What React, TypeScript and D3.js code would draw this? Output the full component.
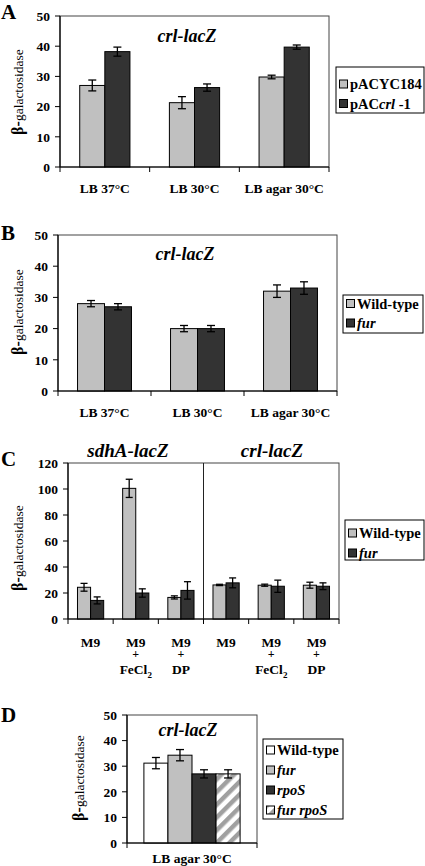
import React from "react";
import * as d3 from "d3";

// ---------- DATA ----------
const panelACategories = ["LB 37°C", "LB 30°C", "LB agar 30°C"];
const panelASeries = ["pACYC184", "pACcrl -1"];
const panelAValuesVector = [27, 21.3, 29.8];
const panelAErrorsVector = [1.8, 2.0, 0.6];
const panelAValuesCrl = [38.2, 26.3, 39.7];
const panelAErrorsCrl = [1.5, 1.2, 0.7];

const panelBCategories = ["LB 37°C", "LB 30°C", "LB agar 30°C"];
const panelBSeries = ["Wild-type", "fur"];
const panelBValuesWT = [28, 20, 32];
const panelBErrorsWT = [1, 1, 2];
const panelBValuesFur = [27, 20, 33];
const panelBErrorsFur = [1, 1, 2];

const panelCCategories = [
  ["M9"],
  ["M9", "+", "FeCl2"],
  ["M9", "+", "DP"],
  ["M9"],
  ["M9", "+", "FeCl2"],
  ["M9", "+", "DP"],
];
const panelCGroups = ["sdhA-lacZ", "crl-lacZ"];
const panelCSeries = ["Wild-type", "fur"];
const panelCValuesWT = [24.4, 100.5, 16.6, 26.2, 26, 26];
const panelCErrorsWT = [3, 7, 1.2, 0.5, 0.8, 2.3];
const panelCValuesFur = [14.3, 20, 22, 27.8, 25.2, 25.2];
const panelCErrorsFur = [2.7, 3.2, 6.7, 3.8, 4.7, 2.6];

const panelDCategories = ["LB agar 30°C"];
const panelDSeries = ["Wild-type", "fur", "rpoS", "fur rpoS"];
const panelDValues = [31.2, 34.3, 27, 27];
const panelDErrors = [2.2, 2.2, 1.6, 1.6];

const titleReporter = "crl-lacZ";
const yAxisLabelPrefix = "β-";
const yAxisLabelRest = "galactosidase";
const yTicks50 = [0, 10, 20, 30, 40, 50];
const yTicks120 = [0, 20, 40, 60, 80, 100, 120];

// ---------- STYLE ----------
const SERIF = "Liberation Serif, Times New Roman, Times, serif";
const LIGHT = "#c0c0c0";
const DARK = "#333333";
const WHITE = "#ffffff";

function RichLabel({ name }: { name: string }) {
  if (name === "pACcrl -1") {
    return (
      <>
        <tspan>pAC</tspan>
        <tspan fontStyle="italic">crl</tspan>
        <tspan> -1</tspan>
      </>
    );
  }
  if (name === "Wild-type" || name.startsWith("pACYC")) return <tspan>{name}</tspan>;
  return <tspan fontStyle="italic">{name}</tspan>;
}

type Series = { values: number[]; errors: number[]; fill: string };

function Panel(props: {
  left: number;
  right: number;
  top: number;
  bottom: number;
  yMax: number;
  ticks: number[];
  nCats: number;
  series: Series[];
  groupFrac: number;
  cap: number;
  dividerAt?: number;
}) {
  const { left, right, top, bottom, yMax, ticks, nCats, series, groupFrac, cap, dividerAt } = props;
  const x = d3
    .scaleBand<number>()
    .domain(d3.range(nCats))
    .range([left, right])
    .padding(0);
  const y = d3.scaleLinear().domain([0, yMax]).range([bottom, top]);
  const bw = x.bandwidth();
  const groupW = bw * groupFrac;
  const sub = d3
    .scaleBand<number>()
    .domain(d3.range(series.length))
    .range([0, groupW])
    .padding(0);
  const boundaries = d3.range(nCats + 1).map((k) => left + k * bw);
  return (
    <g>
      <rect x={left} y={top} width={right - left} height={bottom - top} fill="#fff" stroke="#444" strokeWidth={1} />
      {dividerAt !== undefined && (
        <line x1={boundaries[dividerAt]} x2={boundaries[dividerAt]} y1={top} y2={bottom} stroke="#222" strokeWidth={1} />
      )}
      {series.map((s, j) =>
        s.values.map((v, i) => {
          const bx = (x(i) as number) + (bw - groupW) / 2 + (sub(j) as number);
          const w = sub.bandwidth();
          const cx = bx + w / 2;
          const e = s.errors[i];
          return (
            <g key={`${j}-${i}`}>
              <rect x={bx} y={y(v)} width={w} height={y(0) - y(v)} fill={s.fill} stroke="#000" strokeWidth={1} />
              <line x1={cx} x2={cx} y1={y(v + e)} y2={y(v - e)} stroke="#000" strokeWidth={1.3} />
              <line x1={cx - cap / 2} x2={cx + cap / 2} y1={y(v + e)} y2={y(v + e)} stroke="#000" strokeWidth={1.3} />
              <line x1={cx - cap / 2} x2={cx + cap / 2} y1={y(v - e)} y2={y(v - e)} stroke="#000" strokeWidth={1.3} />
            </g>
          );
        })
      )}
      <line x1={left} x2={left} y1={top} y2={bottom} stroke="#000" strokeWidth={1.2} />
      <line x1={left} x2={right} y1={bottom} y2={bottom} stroke="#000" strokeWidth={1.2} />
      {ticks.map((t) => (
        <g key={t}>
          <line x1={left - 5} x2={left} y1={y(t)} y2={y(t)} stroke="#000" strokeWidth={1} />
          <text
            x={left - 10}
            y={y(t)}
            dy="0.35em"
            textAnchor="end"
            fontFamily={SERIF}
            fontWeight="bold"
            fontSize={13.5}
          >
            {t}
          </text>
        </g>
      ))}
      {boundaries.map((bx, k) => (
        <line key={k} x1={bx} x2={bx} y1={bottom} y2={bottom + 5} stroke="#000" strokeWidth={1} />
      ))}
    </g>
  );
}

function YLabel({ x, y }: { x: number; y: number }) {
  return (
    <text
      transform={`translate(${x},${y}) rotate(-90)`}
      textAnchor="middle"
      dy="0.35em"
      fontFamily={SERIF}
    >
      <tspan fontWeight="bold" fontSize={16}>
        {yAxisLabelPrefix}
      </tspan>
      <tspan fontSize={13.5}>{yAxisLabelRest}</tspan>
    </text>
  );
}

function Legend({
  x,
  y,
  w,
  h,
  names,
  fills,
  rowYs,
}: {
  x: number;
  y: number;
  w: number;
  h: number;
  names: string[];
  fills: string[];
  rowYs: number[];
}) {
  return (
    <g>
      <rect x={x} y={y} width={w} height={h} fill="#fff" stroke="#000" strokeWidth={1} />
      {names.map((n, i) => (
        <g key={n}>
          <rect x={x + 3.5} y={rowYs[i] - 4} width={8} height={8} fill={fills[i]} stroke="#000" strokeWidth={1} />
          <text x={x + 14} y={rowYs[i]} dy="0.35em" fontFamily={SERIF} fontWeight="bold" fontSize={14.5}>
            <RichLabel name={n} />
          </text>
        </g>
      ))}
    </g>
  );
}

function Letter({ x, y, t }: { x: number; y: number; t: string }) {
  return (
    <text x={x} y={y} fontFamily={SERIF} fontWeight="bold" fontSize={21}>
      {t}
    </text>
  );
}

function Title({ x, y, t, size = 18 }: { x: number; y: number; t: string; size?: number }) {
  return (
    <text x={x} y={y} textAnchor="middle" fontFamily={SERIF} fontWeight="bold" fontStyle="italic" fontSize={size}>
      {t}
    </text>
  );
}

const C_LINE_Y = [647, 658, 674];

function MultiLineLabel({ x, lines }: { x: number; lines: string[] }) {
  // one text element, each line a tspan; a trailing digit after a lowercase letter is a subscript
  const parts: React.ReactNode[] = [];
  lines.forEach((ln, k) => {
    const m = ln.match(/^(.*[a-z])(\d+)$/);
    if (m) {
      parts.push(
        <tspan key={`${k}a`} x={x} y={C_LINE_Y[k]}>
          {m[1]}
        </tspan>
      );
      parts.push(
        <tspan key={`${k}b`} fontSize={9} dy={4}>
          {m[2]}
        </tspan>
      );
    } else {
      parts.push(
        <tspan key={k} x={x} y={C_LINE_Y[k]} fontSize={k === 1 ? 12 : 13.5}>
          {ln}
        </tspan>
      );
    }
  });
  return (
    <text textAnchor="middle" fontFamily={SERIF} fontWeight="bold" fontSize={13.5}>
      {parts}
    </text>
  );
}

export default function App() {
  const A = { left: 60, right: 329, top: 16, bottom: 167 };
  const B = { left: 58, right: 337, top: 235, bottom: 391 };
  const C = { left: 68, right: 339, top: 463, bottom: 619 };
  const D = { left: 127, right: 257, top: 715, bottom: 843 };

  const bandCenters = (L: { left: number; right: number }, n: number) => {
    const s = d3.scaleBand<number>().domain(d3.range(n)).range([L.left, L.right]).padding(0);
    return d3.range(n).map((i) => (s(i) as number) + s.bandwidth() / 2);
  };
  const aCenters = bandCenters(A, panelACategories.length);
  const bCenters = bandCenters(B, panelBCategories.length);
  const cCenters = bandCenters(C, panelCCategories.length);
  const dCenters = bandCenters(D, panelDCategories.length);

  return (
    <svg
      width={425}
      height={866}
      style={{ position: "absolute", left: 0, top: 0, background: "#fff" }}
    >
      <defs>
        <pattern id="stripes" width={9} height={9} patternUnits="userSpaceOnUse" patternTransform="rotate(45)">
          <rect width={9} height={9} fill="#fff" />
          <rect width={4.5} height={9} fill="#a0a0a0" />
        </pattern>
      </defs>
      <rect width={425} height={866} fill="#fff" />

      {/* Panel A */}
      <Letter x={1} y={19} t="A" />
      <Panel
        {...A}
        yMax={50}
        ticks={yTicks50}
        nCats={panelACategories.length}
        series={[
          { values: panelAValuesVector, errors: panelAErrorsVector, fill: LIGHT },
          { values: panelAValuesCrl, errors: panelAErrorsCrl, fill: DARK },
        ]}
        groupFrac={0.56}
        cap={8}
      />
      <Title x={187} y={42} t={titleReporter} />
      <YLabel x={17} y={92} />
      {panelACategories.map((c, i) => (
        <text key={c} x={aCenters[i]} y={193} textAnchor="middle" fontFamily={SERIF} fontWeight="bold" fontSize={13.5}>
          {c}
        </text>
      ))}
      <Legend x={336} y={67} w={88} h={46} names={panelASeries} fills={[LIGHT, DARK]} rowYs={[84, 103.5]} />

      {/* Panel B */}
      <Letter x={1} y={240} t="B" />
      <Panel
        {...B}
        yMax={50}
        ticks={yTicks50}
        nCats={panelBCategories.length}
        series={[
          { values: panelBValuesWT, errors: panelBErrorsWT, fill: LIGHT },
          { values: panelBValuesFur, errors: panelBErrorsFur, fill: DARK },
        ]}
        groupFrac={0.58}
        cap={8}
      />
      <Title x={185} y={260} t={titleReporter} />
      <YLabel x={17} y={312} />
      {panelBCategories.map((c, i) => (
        <text key={c} x={bCenters[i]} y={417} textAnchor="middle" fontFamily={SERIF} fontWeight="bold" fontSize={13.5}>
          {c}
        </text>
      ))}
      <Legend x={343} y={295} w={80} h={38} names={panelBSeries} fills={[LIGHT, DARK]} rowYs={[303.5, 323]} />

      {/* Panel C */}
      <Letter x={1} y={466} t="C" />
      <Panel
        {...C}
        yMax={120}
        ticks={yTicks120}
        nCats={panelCCategories.length}
        series={[
          { values: panelCValuesWT, errors: panelCErrorsWT, fill: LIGHT },
          { values: panelCValuesFur, errors: panelCErrorsFur, fill: DARK },
        ]}
        groupFrac={0.58}
        cap={7}
        dividerAt={3}
      />
      <Title x={128} y={457} t={panelCGroups[0]} size={19} />
      <Title x={272} y={457} t={panelCGroups[1]} size={19} />
      <YLabel x={17} y={548} />
      {panelCCategories.map((lines, i) => (
        <MultiLineLabel key={i} x={cCenters[i]} lines={lines} />
      ))}
      <Legend x={345} y={520} w={79} h={40} names={panelCSeries} fills={[LIGHT, DARK]} rowYs={[533, 553]} />

      {/* Panel D */}
      <Letter x={1} y={722} t="D" />
      <Panel
        {...D}
        yMax={50}
        ticks={yTicks50}
        nCats={panelDCategories.length}
        series={panelDSeries.map((_, j) => ({
          values: [panelDValues[j]],
          errors: [panelDErrors[j]],
          fill: [WHITE, LIGHT, DARK, "url(#stripes)"][j],
        }))}
        groupFrac={0.74}
        cap={8}
      />
      <Title x={188} y={736} t={titleReporter} />
      <YLabel x={78} y={778} />
      {panelDCategories.map((c, i) => (
        <text key={c} x={dCenters[i]} y={863} textAnchor="middle" fontFamily={SERIF} fontWeight="bold" fontSize={13.5}>
          {c}
        </text>
      ))}
      <Legend
        x={263}
        y={739}
        w={80}
        h={80}
        names={panelDSeries}
        fills={[WHITE, LIGHT, DARK, "url(#stripes)"]}
        rowYs={[750, 770, 790, 810]}
      />
    </svg>
  );
}
